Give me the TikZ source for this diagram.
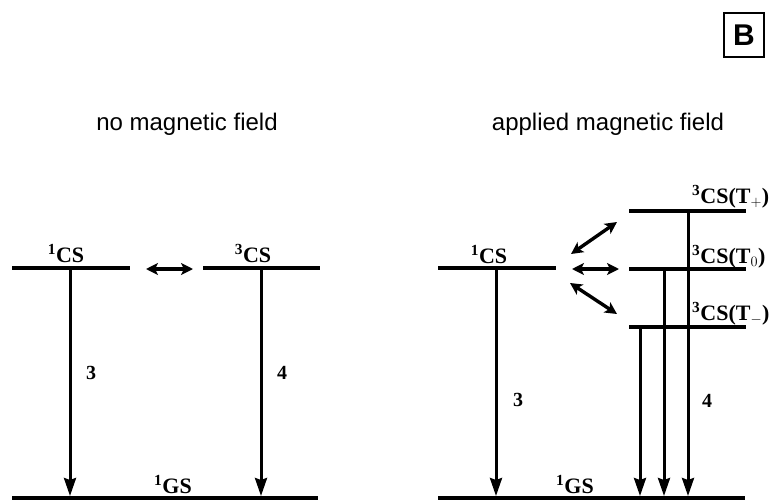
\documentclass[tikz,border=0pt]{standalone}
\usepackage{fontspec}
\setmainfont{Liberation Serif}
\newfontfamily\sansf{Liberation Sans}
\usetikzlibrary{arrows.meta}
\begin{document}
\begin{tikzpicture}[x=1pt,y=-1pt,
  level/.style={line width=4.5pt},
  trans/.style={line width=3pt,-{Stealth[length=18pt,width=12pt,inset=2pt]}},
  exch/.style={line width=3.4pt,{Stealth[length=12pt,width=12pt,inset=3pt]}-{Stealth[length=12pt,width=12pt,inset=3pt]}},
  lab/.style={font=\fontsize{22}{22}\selectfont\bfseries, inner sep=0pt, anchor=base},
  tlab/.style={font=\fontsize{22}{22}\selectfont\bfseries, inner sep=0pt, anchor=base west},
  num/.style={font=\fontsize{20}{20}\selectfont\bfseries, inner sep=0pt},
  ttl/.style={font=\sansf\fontsize{24}{24}\selectfont, inner sep=0pt}]
\useasboundingbox (0,0) rectangle (774,501);

% panel label
\node[draw, line width=2.6pt, minimum width=40pt, minimum height=44pt, inner sep=0pt,
      font=\sansf\bfseries\fontsize{30}{30}\selectfont] (B) at (744,35) {B};

% titles
\node[ttl] (t1) at (187,124) {no magnetic field};
\node[ttl] (t2) at (608,124) {applied magnetic field};

% ---------- left panel ----------
\coordinate (A1a) at (12,268);  \coordinate (A1b) at (130,268);
\coordinate (A3a) at (203,268); \coordinate (A3b) at (320,268);
\coordinate (AGa) at (12,498);  \coordinate (AGb) at (318,498);
\draw[level] (A1a) -- (A1b);
\draw[level] (A3a) -- (A3b);
\draw[level] (AGa) -- (AGb);
\node[lab] (A1l) at (66,262) {\textsuperscript{1}CS};
\node[lab] (A3l) at (253,262) {\textsuperscript{3}CS};
\node[lab] (AGl) at (173,493) {\textsuperscript{1}GS};
\coordinate (A1s) at (70,268);  \coordinate (A1e) at (70,496);
\coordinate (A3s) at (261,268); \coordinate (A3e) at (261,496);
\draw[trans] (A1s) -- (A1e);
\draw[trans] (A3s) -- (A3e);
\node[num] (n3a) at (91,373) {3};
\node[num] (n4a) at (282,373) {4};
\coordinate (Xa) at (146,269); \coordinate (Xb) at (193,269);
\draw[exch] (Xa) -- (Xb);

% ---------- right panel ----------
\coordinate (B1a) at (438,268); \coordinate (B1b) at (556,268);
\coordinate (Tpa) at (629,211); \coordinate (Tpb) at (746,211);
\coordinate (T0a) at (629,269); \coordinate (T0b) at (746,269);
\coordinate (Tma) at (629,327); \coordinate (Tmb) at (746,327);
\coordinate (BGa) at (438,498); \coordinate (BGb) at (745,498);
\draw[level] (B1a) -- (B1b);
\draw[level] (Tpa) -- (Tpb);
\draw[level] (T0a) -- (T0b);
\draw[level] (Tma) -- (Tmb);
\draw[level] (BGa) -- (BGb);
\node[lab] (B1l) at (489,263) {\textsuperscript{1}CS};
\node[tlab] (Tpl) at (692,203) {\textsuperscript{3}CS(T$_{+}$)};
\node[tlab] (T0l) at (692,263) {\textsuperscript{3}CS(T$_{0}$)};
\node[tlab] (Tml) at (692,320) {\textsuperscript{3}CS(T$_{-}$)};
\node[lab] (BGl) at (575,493) {\textsuperscript{1}GS};

\coordinate (B1s) at (496,268); \coordinate (B1e) at (496,496);
\coordinate (Tps) at (688,211); \coordinate (Tpe) at (688,496);
\coordinate (T0s) at (664,269); \coordinate (T0e) at (664,496);
\coordinate (Tms) at (640,327); \coordinate (Tme) at (640,496);
\draw[trans] (B1s) -- (B1e);
\draw[trans] (Tps) -- (Tpe);
\draw[trans] (T0s) -- (T0e);
\draw[trans] (Tms) -- (Tme);
\node[num] (n3b) at (518,400) {3};
\node[num] (n4b) at (707,401) {4};

\coordinate (Ua) at (571,254); \coordinate (Ub) at (617,222);
\coordinate (Ma) at (572,269); \coordinate (Mb) at (619,269);
\coordinate (Da) at (570,283); \coordinate (Db) at (617,314);
\draw[exch] (Ua) -- (Ub);
\draw[exch] (Ma) -- (Mb);
\draw[exch] (Da) -- (Db);
\end{tikzpicture}
\end{document}
